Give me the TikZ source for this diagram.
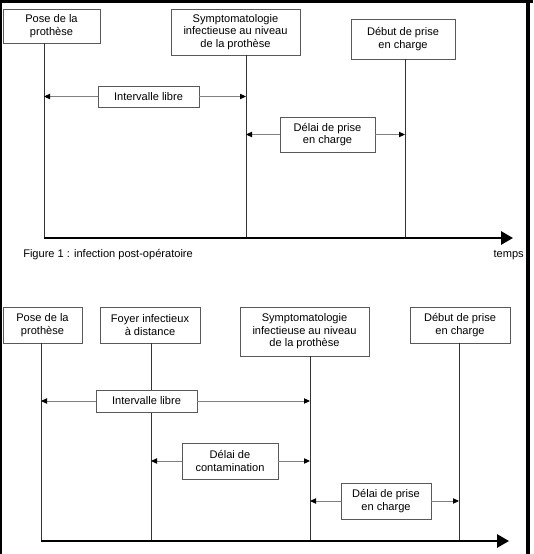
\documentclass[tikz,border=0pt]{standalone}
\usepackage{fontspec}
\setmainfont{Liberation Sans}
\usetikzlibrary{arrows.meta}
\begin{document}
\begin{tikzpicture}[x=0.75pt,y=-0.75pt,
  font=\fontsize{8.3}{9.4}\selectfont,
  box/.style 2 args={draw=black!65,fill=white,align=center,inner sep=0pt,
    minimum width=#1*0.75pt,minimum height=#2*0.75pt},
  tick/.style={draw=black!80,line width=0.6pt},
  dur/.style={draw=black!50,line width=0.7pt,-{Triangle[length=4.5pt,width=4pt,color=black]}},
  axis/.style={line width=1.5pt,-{Triangle[length=9pt,width=10pt]}}]
\useasboundingbox (0,0) rectangle (533,554);
% frame of the screenshot
\fill (0,0) rectangle (533,3);
\fill (0,0) rectangle (2,554);
\fill (526,0) rectangle (530,554);

% figure 1 : events
\path (51.5,26) node[box={97}{34}](pose1){Pose de la\\prothèse};
\path (235.5,32) node[box={129}{46}](sympt1){Symptomatologie\\infectieuse au niveau\\de la prothèse};
\path (403,39) node[box={104}{40}](debut1){Début de prise\\en charge};

\coordinate (a1) at (44,238);
\coordinate (a2) at (246,238);
\coordinate (a3) at (405,238);
\coordinate (t1) at (513,238);
\draw[tick] (a1 |- pose1.south) -- (a1);
\draw[tick] (a2 |- sympt1.south) -- (a2);
\draw[tick] (a3 |- debut1.south) -- (a3);

% figure 1 : durations
\path (148.5,96.5) node[box={101}{21}](libre1){Intervalle libre};
\draw[dur] (libre1.west) -- (libre1.west -| a1);
\draw[dur] (libre1.east) -- (libre1.east -| a2);
\path (327.5,134.5) node[box={95}{35}](prise1){Délai de prise\\en charge};
\draw[dur] (prise1.west) -- (prise1.west -| a2);
\draw[dur] (prise1.east) -- (prise1.east -| a3);

\draw[axis] (a1) -- (t1);
\path (23,255) node[anchor=west,inner sep=0pt](cap1){Figure 1 : infection post-opératoire};
\path (524,255) node[anchor=east,inner sep=0pt](temps1){temps};

% figure 2 : events
\path (42.5,325) node[box={79}{36}](pose2){Pose de la\\prothèse};
\path (150,325) node[box={100}{36}](foyer2){Foyer infectieux\\à distance};
\path (304.5,331.5) node[box={129}{49}](sympt2){Symptomatologie\\infectieuse au niveau\\de la prothèse};
\path (460,325) node[box={100}{36}](debut2){Début de prise\\en charge};

\coordinate (b1) at (41,541);
\coordinate (b2) at (151,541);
\coordinate (b3) at (310,541);
\coordinate (b4) at (459,541);
\coordinate (t2) at (509,541);
\draw[tick] (b1 |- pose2.south) -- (b1);
\draw[tick] (b2 |- foyer2.south) -- (b2);
\draw[tick] (b3 |- sympt2.south) -- (b3);
\draw[tick] (b4 |- debut2.south) -- (b4);

% figure 2 : durations
\path (146.5,401) node[box={101}{22}](libre2){Intervalle libre};
\draw[dur] (libre2.west) -- (libre2.west -| b1);
\draw[dur] (libre2.east) -- (libre2.east -| b3);
\path (230,461) node[box={96}{36}](conta2){Délai de\\contamination};
\draw[dur] (conta2.west) -- (conta2.west -| b2);
\draw[dur] (conta2.east) -- (conta2.east -| b3);
\path (386,501) node[box={90}{36}](prise2){Délai de prise\\en charge};
\draw[dur] (prise2.west) -- (prise2.west -| b3);
\draw[dur] (prise2.east) -- (prise2.east -| b4);

\draw[axis] (b1) -- (t2);
\end{tikzpicture}
\end{document}
